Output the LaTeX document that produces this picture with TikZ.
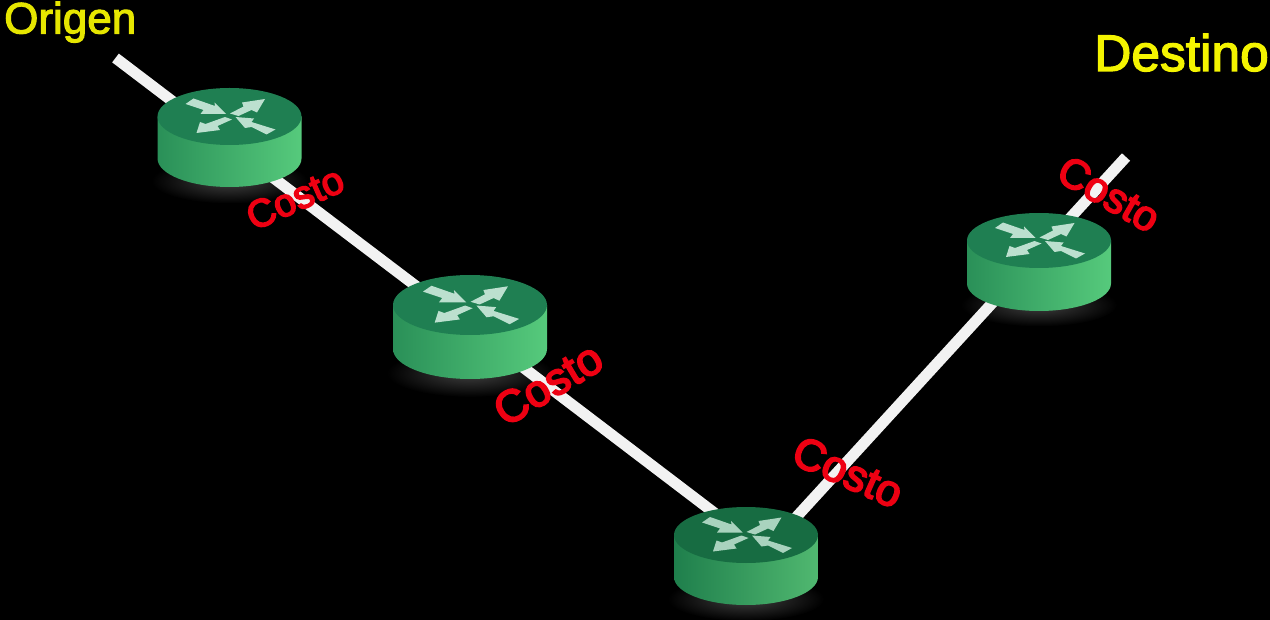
\documentclass[tikz,border=0pt]{standalone}
\usepackage{fontspec}
\setmainfont{Liberation Sans}
\newfontfamily\tagfont[FakeBold=2.5]{Liberation Sans}
\newfontfamily\costofont[FakeBold=4]{Liberation Sans}
\definecolor{ylwA}{HTML}{E6E600}
\definecolor{ylwB}{HTML}{F4F400}
\definecolor{cred}{HTML}{EE0012}
\definecolor{lnk}{HTML}{F2F2F2}
\definecolor{glow}{HTML}{404040}
\definecolor{bodyL}{HTML}{2A9058}
\definecolor{bodyM}{HTML}{35A062}
\definecolor{bodyR}{HTML}{56CA7C}
\definecolor{topc}{HTML}{1F7F52}
\definecolor{arrc}{HTML}{BCE0CF}
\definecolor{bodyLd}{HTML}{1F7F4C}
\definecolor{bodyMd}{HTML}{2A8E56}
\definecolor{bodyRd}{HTML}{50B870}
\definecolor{topd}{HTML}{176C42}
\definecolor{arrd}{HTML}{A9D3BE}
\tikzset{
  linkline/.style={draw=lnk,line width=11pt,line cap=butt,line join=miter},
  tag/.style={inner sep=0pt,anchor=base west},
  costo/.style={inner sep=0pt,text=cred,font=\costofont\fontsize{#1}{#1}\selectfont},
}
% cx, cy, rx, ry, depth
\newcommand{\routerglow}[5]{%
  \shade[inner color=glow,outer color=black] (#1,#2+#4+#5-6) ellipse [x radius=#3+6,y radius=#4-6];
}
\newcommand{\routerdraw}[5]{%
  \begin{scope}[shift={(#1,#2)}]
    \path[left color=cL,middle color=cM,right color=cR]
      (-#3,0) -- (-#3,#5) arc[start angle=180,end angle=360,x radius=#3,y radius=-#4] -- (#3,0) -- cycle;
    \fill[cT] (0,0) ellipse [x radius=#3,y radius=#4];
    \begin{scope}[x=#3/72*1pt,y=-#3/72*1pt]
      \fill[cA] (-44,-12.5) -- (-36,-18) -- (-14.5,-10.5) -- (-15,-14) -- (-3.5,-2.5) -- (-29,-2.5) -- (-26,-6.5) -- cycle;
      \fill[cA] (0.5,-3) -- (14,-10) -- (12.5,-14) -- (35.5,-17.5) -- (27.5,-4) -- (22,-6.5) -- (9,-0.5) -- cycle;
      \fill[cA] (-4.5,0.5) -- (2.5,3) -- (-12,9.5) -- (-9.5,13.5) -- (-33,16.5) -- (-29.5,5.5) -- (-24,7.5) -- cycle;
      \fill[cA] (46,13) -- (37,18) -- (22,10.5) -- (15.5,11.5) -- (6,0.5) -- (24.5,2) -- (22,5.5) -- cycle;
    \end{scope}
  \end{scope}
}
\begin{document}
\begin{tikzpicture}[x=1pt,y=-1pt]
\fill[black] (0,0) rectangle (1270,620);
\useasboundingbox (0,0) rectangle (1270,620);
\routerglow{229.5}{116.5}{72}{28.5}{42}
\routerglow{470}{305}{77}{30}{44}
\routerglow{746}{535}{72}{28}{42}
\routerglow{1039}{240.5}{72}{27.5}{43}
\coordinate (start) at (115.5,58);
\coordinate (r1) at (229.5,144.6);
\coordinate (r2) at (470,327);
\coordinate (r3) at (746,537);
\coordinate (r3b) at (746,572);
\coordinate (r4) at (1039,252);
\coordinate (end) at (1126,157);
\draw[linkline] (start) -- (r1) -- (r2) -- (r3);
\draw[linkline] (r3b) -- (r4) -- (end);
\colorlet{cL}{bodyL}\colorlet{cM}{bodyM}\colorlet{cR}{bodyR}\colorlet{cT}{topc}\colorlet{cA}{arrc}
\routerdraw{229.5}{116.5}{72}{28.5}{42}
\routerdraw{470}{305}{77}{30}{44}
\routerdraw{1039}{240.5}{72}{27.5}{43}
\colorlet{cL}{bodyLd}\colorlet{cM}{bodyMd}\colorlet{cR}{bodyRd}\colorlet{cT}{topd}\colorlet{cA}{arrd}
\routerdraw{746}{535}{72}{28}{42}
\node[tag,text=ylwA,font=\tagfont\fontsize{44}{44}\selectfont] (origen) at (4,33.5) {Origen};
\node[tag,text=ylwB,font=\tagfont\fontsize{51.5}{51.5}\selectfont] (destino) at (1094,71) {Destino};
\node[costo=39,rotate=24] (c1) at (295,198) {Costo};
\node[costo=45,rotate=31] (c2) at (548,384) {Costo};
\node[costo=44,rotate=-24] (c3) at (848,472) {Costo};
\node[costo=42,rotate=-30] (c4) at (1109,194) {Costo};
\end{tikzpicture}
\end{document}
